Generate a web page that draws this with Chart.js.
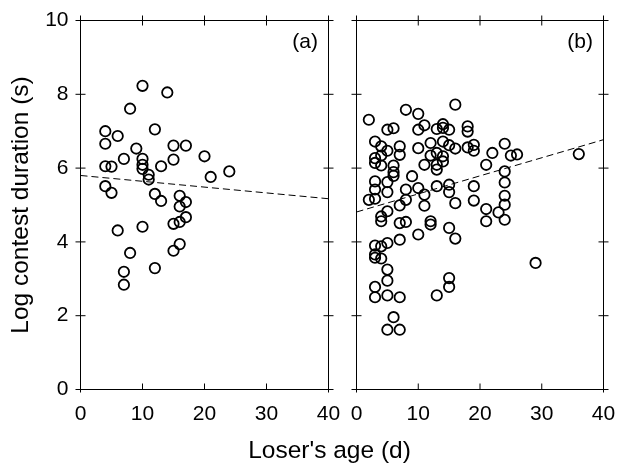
<!DOCTYPE html>
<html>
<head>
<meta charset="utf-8">
<script src="https://cdn.jsdelivr.net/npm/chart.js@4.4.0/dist/chart.umd.min.js"></script>
<style>
body{margin:0;background:#fff;width:617px;height:464px;position:relative;overflow:hidden;font-family:"Liberation Sans",Arial,sans-serif}
#wrapA{position:absolute;left:0;top:0;width:342px;height:464px}
#wrapB{position:absolute;left:342px;top:0;width:275px;height:464px}
#xtitle{position:absolute;left:229.5px;width:200px;top:437.5px;text-align:center;font-size:24.5px;line-height:24.5px;color:#000;white-space:nowrap}
</style>
</head>
<body>
<div id="wrapA"><canvas id="chartA" width="342" height="464"></canvas></div>
<div id="wrapB"><canvas id="chartB" width="275" height="464"></canvas></div>
<div id="xtitle">Loser's age (d)</div>
<script>
// panel (a)
const ageA = [10,14,8,12,4,6,4,9,15,17,20,7,10,15,10,10,4,5,13,24,21,11,11,4,5,12,13,16,17,16,17,15,16,6,10,16,15,8,12,7,7];
const durA = [8.23,8.05,7.61,7.05,7.00,6.87,6.66,6.53,6.61,6.61,6.32,6.25,6.25,6.23,6.09,5.98,6.05,6.04,6.05,5.91,5.76,5.82,5.69,5.51,5.33,5.30,5.11,5.25,5.08,4.96,4.67,4.49,4.54,4.31,4.41,3.94,3.76,3.70,3.29,3.19,2.84];

// panel (b)
const ageB = [16,8,10,2,5,6,10,11,13,14,15,14,18,18,3,4,5,7,7,10,12,14,16,18,19,19,4,3,3,4,6,6,12,13,14,14,11,13,13,9,15,
  3,5,3,5,2,3,6,8,10,8,11,13,15,15,16,19,19,7,11,5,4,4,7,8,12,12,15,16,10,7,5,4,3,3,
  3,4,5,5,3,3,5,7,13,15,15,6,5,7,
  22,21,24,25,26,36,24,24,24,24,21,23,21,24,29];
const durB = [7.72,7.58,7.47,7.31,7.04,7.08,7.04,7.16,7.06,7.09,7.04,7.19,7.13,6.99,6.72,6.59,6.47,6.59,6.36,6.54,6.68,6.72,6.53,6.56,6.63,6.47,6.34,6.27,6.14,6.07,6.07,5.89,6.34,6.41,6.32,6.18,6.09,6.09,5.96,5.78,6.62,
  5.64,5.62,5.42,5.35,5.14,5.17,5.79,5.42,5.46,5.14,5.28,5.51,5.55,5.35,5.05,5.51,5.12,4.99,4.98,4.83,4.69,4.56,4.51,4.54,4.56,4.47,4.38,4.09,4.20,4.06,3.97,3.88,3.90,3.66,
  3.57,3.55,3.25,2.95,2.78,2.50,2.55,2.50,2.55,3.02,2.78,1.96,1.62,1.62,
  6.41,6.09,6.66,6.34,6.37,6.38,5.91,5.61,5.25,5.01,4.89,4.80,4.56,4.60,3.43];

// fitted lines (ends at x=0 and x=40)
const fitX = [0, 40];
const fitA = [5.80, 5.17];
const fitB = [4.81, 6.77];

const xTicks = [0, 10, 20, 30, 40];
const yTicks = [0, 2, 4, 6, 8, 10];

Chart.defaults.font.family = '"Liberation Sans", Arial, sans-serif';
Chart.defaults.color = '#000';

const framePlugin = {
  id: 'frame',
  afterDraw(chart, args, opts) {
    const ctx = chart.ctx;
    const a = chart.chartArea;
    const x = chart.scales.x, y = chart.scales.y;
    ctx.save();
    ctx.strokeStyle = '#000';
    ctx.lineWidth = 1;
    ctx.strokeRect(a.left, a.top, a.right - a.left, a.bottom - a.top);
    ctx.beginPath();
    yTicks.forEach(v => {
      const py = y.getPixelForValue(v);
      ctx.moveTo(a.left - 5, py); ctx.lineTo(a.left + 5, py);
      ctx.moveTo(a.right - 5, py); ctx.lineTo(a.right + 5, py);
    });
    xTicks.forEach(v => {
      const px = x.getPixelForValue(v);
      ctx.moveTo(px, a.top - 5); ctx.lineTo(px, a.top + 5);
      ctx.moveTo(px, a.bottom - 6); ctx.lineTo(px, a.bottom + ((v === 0 || v === 40) ? 3 : 0));
    });
    ctx.stroke();
    ctx.fillStyle = '#000';
    ctx.font = '21px "Liberation Sans", Arial, sans-serif';
    ctx.textAlign = 'right';
    ctx.textBaseline = 'alphabetic';
    ctx.fillText(opts.tag, a.right - 10.5, a.top + 27);
    ctx.restore();
  }
};

function makeChart(id, ages, durs, fit, tag, first) {
  const pts = ages.map((v, i) => ({x: v, y: durs[i]}));
  const line = fitX.map((v, i) => ({x: v, y: fit[i]}));
  return new Chart(document.getElementById(id), {
    type: 'scatter',
    data: {
      datasets: [{
        data: pts,
        pointRadius: 5.2,
        pointBorderWidth: 1.8,
        borderColor: '#000',
        backgroundColor: 'rgba(0,0,0,0)'
      }, {
        type: 'line',
        data: line,
        borderColor: '#000',
        borderWidth: 1,
        borderDash: [7, 4],
        pointRadius: 0,
        fill: false
      }]
    },
    options: {
      responsive: false,
      animation: false,
      layout: {padding: {top: 20.5, right: 13.5, left: 0, bottom: 0}},
      plugins: {legend: {display: false}, tooltip: {enabled: false}, frame: {tag: tag}},
      scales: {
        x: {
          type: 'linear', min: 0, max: 40,
          afterBuildTicks: s => { s.ticks = xTicks.map(v => ({value: v})); },
          ticks: {font: {size: 21}, padding: 12, color: '#000'},
          grid: {display: false, drawTicks: false},
          border: {display: false},
          // fixed height, and no extra room for the end labels
          afterFit: s => { s.height = 74.5; s.paddingLeft = 0; s.paddingRight = 0; }
        },
        y: {
          type: 'linear', min: 0, max: 10,
          afterBuildTicks: s => { s.ticks = yTicks.map(v => ({value: v})); },
          ticks: {display: first, font: {size: 21}, padding: 12, color: '#000'},
          grid: {display: false, drawTicks: false},
          border: {display: false},
          title: {display: first, text: 'Log contest duration (s)', font: {size: 24.5}, color: '#000', padding: {top: 7, bottom: 0}},
          afterFit: s => { s.width = first ? 80.5 : 14.5; s.paddingTop = 0; s.paddingBottom = 0; }
        }
      }
    },
    plugins: [framePlugin]
  });
}

const chartA = makeChart('chartA', ageA, durA, fitA, '(a)', true);
const chartB = makeChart('chartB', ageB, durB, fitB, '(b)', false);
</script>
</body>
</html>
